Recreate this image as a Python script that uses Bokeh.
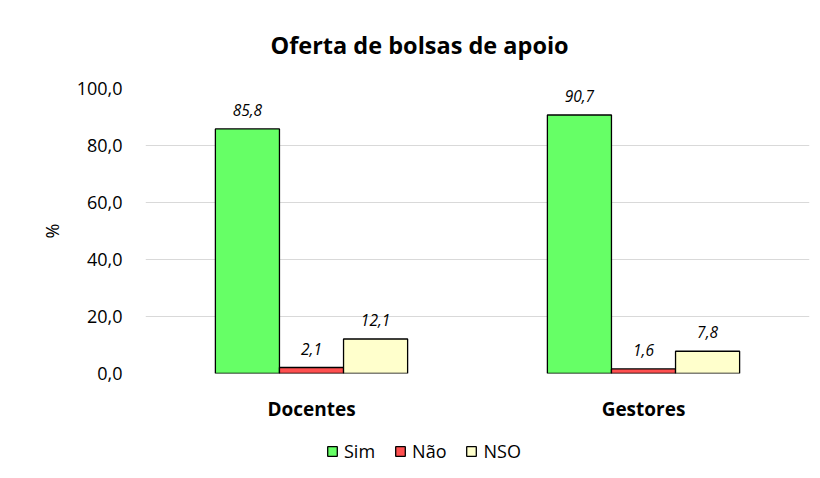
from bokeh.plotting import figure
from bokeh.layouts import column
from bokeh.models import (ColumnDataSource, FactorRange, FixedTicker, CustomJSTickFormatter,
                          Legend, LegendItem, Title, Range1d)
from bokeh.transform import dodge
from bokeh.core.properties import value
from bokeh.embed import file_html
from bokeh.resources import INLINE

categories = ["Docentes", "Gestores"]
series = ["Sim", "Não", "NSO"]
sim = [85.8, 90.7]
nao = [2.1, 1.6]
nso = [12.1, 7.8]
colors = ["#66FF66", "#FF5050", "#FFFFCC"]
y_ticks = [0, 20, 40, 60, 80, 100]
title_text = "Oferta de bolsas de apoio"

FONT = "Open Sans"

def fmt(v):
    return f"{v:.1f}".replace(".", ",")

src = ColumnDataSource(dict(
    cat=categories,
    Sim=sim, Nao=nao, NSO=nso,
    Sim_l=[fmt(v) for v in sim],
    Nao_l=[fmt(v) for v in nao],
    NSO_l=[fmt(v) for v in nso],
))

p = figure(x_range=FactorRange(factors=categories, range_padding=0), y_range=(0, 100),
           frame_width=664, frame_height=285, output_backend="svg", toolbar_location=None,
           min_border_left=145, min_border_right=11, min_border_top=88, min_border_bottom=48)

bw = 0.193
cols = ["Sim", "Nao", "NSO"]
offsets = [-bw, 0, bw]
for name, col, off, c in zip(series, cols, offsets, colors):
    p.vbar(x=dodge("cat", off, range=p.x_range), top=col, width=bw, source=src,
           fill_color=c, line_color="black", line_width=1.3)
    p.text(x=dodge("cat", off, range=p.x_range), y=col, text=col + "_l", source=src,
           text_font=value(FONT), text_font_style="italic", text_font_size="15.5px",
           text_color="#000000", text_align="center", text_baseline="bottom", y_offset=-13)

# spacer between title and frame
p.add_layout(Title(text=" ", text_font_size="10px"), "above")

p.title.text = title_text
p.title.align = "left"
p.title.offset = 125
p.title.text_font = FONT
p.title.text_font_size = "23.5px"
p.title.text_font_style = "bold"
p.title.text_color = "#000000"

p.outline_line_color = None
p.xgrid.grid_line_color = None
p.ygrid.grid_line_color = "#d9d9d9"
p.ygrid.grid_line_width = 1.2

p.yaxis.ticker = FixedTicker(ticks=y_ticks)
p.yaxis.formatter = CustomJSTickFormatter(code="return tick.toFixed(1).replace('.', ',');")
p.yaxis.axis_line_color = None
p.yaxis.major_tick_line_color = None
p.yaxis.minor_tick_line_color = None
p.yaxis.major_label_text_font = FONT
p.yaxis.major_label_text_font_size = "18px"
p.yaxis.major_label_text_color = "#000000"
p.yaxis.major_label_standoff = 17
p.yaxis.axis_label = "%"
p.yaxis.axis_label_text_font = FONT
p.yaxis.axis_label_text_font_size = "18px"
p.yaxis.axis_label_text_font_style = "normal"
p.yaxis.axis_label_text_color = "#000000"
p.yaxis.axis_label_standoff = 10

p.xaxis.axis_line_color = None
p.xaxis.major_tick_line_color = None
p.xaxis.minor_tick_line_color = None
p.xaxis.major_label_text_font = FONT
p.xaxis.major_label_text_font_size = "19px"
p.xaxis.major_label_text_font_style = "bold"
p.xaxis.major_label_text_color = "#000000"
p.xaxis.major_label_standoff = 16

# legend strip below the chart (same series, bars kept out of its view)
lg = figure(x_range=FactorRange(factors=categories, range_padding=0), y_range=Range1d(1000, 1001),
            width=820, height=57, output_backend="svg", toolbar_location=None,
            x_axis_type=None, y_axis_type=None, min_border=0)
lg.outline_line_color = None
lg.xgrid.grid_line_color = None
lg.ygrid.grid_line_color = None
items = []
for name, col, off, c in zip(series, cols, offsets, colors):
    r = lg.vbar(x=dodge("cat", off, range=lg.x_range), top=col, width=bw, source=src,
                fill_color=c, line_color="black", line_width=1.3)
    items.append(LegendItem(label=name, renderers=[r]))

legend = Legend(items=items, orientation="horizontal", location=(181, 18),
                label_text_font=FONT, label_text_font_size="18px", label_text_color="#000000",
                glyph_width=12, glyph_height=12, label_standoff=6, spacing=19,
                border_line_color=None, background_fill_alpha=0, padding=0, margin=0)
lg.add_layout(legend, "center")

layout = column(p, lg, spacing=0)
open("out.html", "w").write(file_html(layout, INLINE))
